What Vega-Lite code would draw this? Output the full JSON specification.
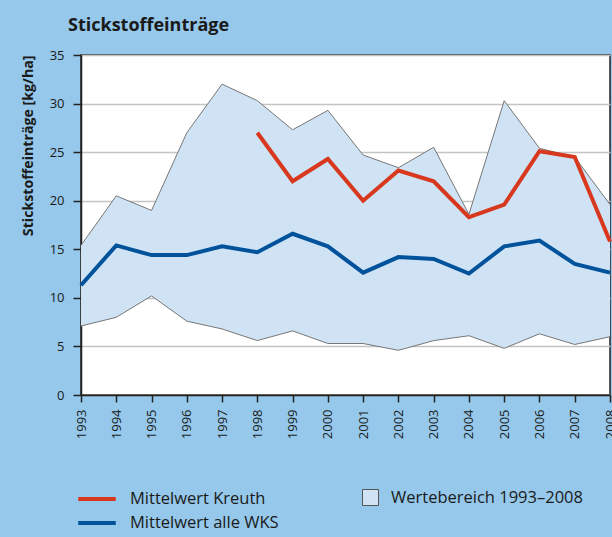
{
  "$schema": "https://vega.github.io/schema/vega-lite/v6.json",
  "width": 529,
  "height": 340,
  "autosize": "none",
  "padding": {"left": 81, "top": 55, "right": 2, "bottom": 142},
  "background": "#95c8ea",
  "title": {"text": "Stickstoffeinträge", "anchor": "start", "frame": "group", "dx": -13, "fontSize": 18, "fontWeight": "bold", "font": "Open Sans", "color": "#1a1a1a", "offset": 0, "baseline": "alphabetic"},
  "config": {
    "view": {"fill": "white", "stroke": "#222", "strokeWidth": 1.5},
    "font": "Open Sans",
    "legend": {"labelFont": "Open Sans", "labelFontSize": 16.5, "labelColor": "#1a1a1a", "labelLimit": 300}
  },
  "datasets": {
    "range": [
      {"year": 1993, "min": 7.1, "max": 15.4},
      {"year": 1994, "min": 8.0, "max": 20.5},
      {"year": 1995, "min": 10.2, "max": 19.0},
      {"year": 1996, "min": 7.6, "max": 27.0},
      {"year": 1997, "min": 6.8, "max": 32.0},
      {"year": 1998, "min": 5.6, "max": 30.3},
      {"year": 1999, "min": 6.6, "max": 27.3},
      {"year": 2000, "min": 5.3, "max": 29.3},
      {"year": 2001, "min": 5.3, "max": 24.7},
      {"year": 2002, "min": 4.6, "max": 23.4},
      {"year": 2003, "min": 5.6, "max": 25.5},
      {"year": 2004, "min": 6.1, "max": 18.6},
      {"year": 2005, "min": 4.8, "max": 30.3},
      {"year": 2006, "min": 6.3, "max": 25.4},
      {"year": 2007, "min": 5.2, "max": 24.5},
      {"year": 2008, "min": 6.0, "max": 19.6}
    ],
    "means": [
      {"year": 1993, "series": "Mittelwert alle WKS", "value": 11.3},
      {"year": 1994, "series": "Mittelwert alle WKS", "value": 15.4},
      {"year": 1995, "series": "Mittelwert alle WKS", "value": 14.4},
      {"year": 1996, "series": "Mittelwert alle WKS", "value": 14.4},
      {"year": 1997, "series": "Mittelwert alle WKS", "value": 15.3},
      {"year": 1998, "series": "Mittelwert alle WKS", "value": 14.7},
      {"year": 1999, "series": "Mittelwert alle WKS", "value": 16.6},
      {"year": 2000, "series": "Mittelwert alle WKS", "value": 15.3},
      {"year": 2001, "series": "Mittelwert alle WKS", "value": 12.6},
      {"year": 2002, "series": "Mittelwert alle WKS", "value": 14.2},
      {"year": 2003, "series": "Mittelwert alle WKS", "value": 14.0},
      {"year": 2004, "series": "Mittelwert alle WKS", "value": 12.5},
      {"year": 2005, "series": "Mittelwert alle WKS", "value": 15.3},
      {"year": 2006, "series": "Mittelwert alle WKS", "value": 15.9},
      {"year": 2007, "series": "Mittelwert alle WKS", "value": 13.5},
      {"year": 2008, "series": "Mittelwert alle WKS", "value": 12.6},
      {"year": 1998, "series": "Mittelwert Kreuth", "value": 27.0},
      {"year": 1999, "series": "Mittelwert Kreuth", "value": 22.0},
      {"year": 2000, "series": "Mittelwert Kreuth", "value": 24.3},
      {"year": 2001, "series": "Mittelwert Kreuth", "value": 20.0},
      {"year": 2002, "series": "Mittelwert Kreuth", "value": 23.1},
      {"year": 2003, "series": "Mittelwert Kreuth", "value": 22.0},
      {"year": 2004, "series": "Mittelwert Kreuth", "value": 18.3},
      {"year": 2005, "series": "Mittelwert Kreuth", "value": 19.6},
      {"year": 2006, "series": "Mittelwert Kreuth", "value": 25.1},
      {"year": 2007, "series": "Mittelwert Kreuth", "value": 24.5},
      {"year": 2008, "series": "Mittelwert Kreuth", "value": 15.8}
    ]
  },
  "encoding": {
    "x": {"field": "year", "type": "quantitative", "scale": {"domain": [1993, 2008], "nice": false, "zero": false},
      "axis": {"title": null, "values": [1993,1994,1995,1996,1997,1998,1999,2000,2001,2002,2003,2004,2005,2006,2007,2008], "format": "d", "labelAngle": -90, "labelFontSize": 13, "labelColor": "#1a1a1a", "tickSize": 7, "tickColor": "#222", "tickWidth": 1.5, "domainColor": "#222", "domainWidth": 1.5, "labelPadding": 7, "grid": false, "labelFlush": false, "labelOverlap": false, "labelBound": false}}
  },
  "layer": [
    {
      "data": {"name": "range"},
      "mark": {"type": "area", "fill": "#cfe3f4"},
      "encoding": {
        "y": {"field": "max", "type": "quantitative", "scale": {"domain": [0, 35], "nice": false},
          "axis": {"title": "Stickstoffeinträge [kg/ha]", "values": [0,5,10,15,20,25,30,35], "labelFontSize": 13, "labelColor": "#1a1a1a", "tickSize": 8, "tickColor": "#222", "tickWidth": 1.5, "domainColor": "#222", "domainWidth": 1.5, "labelPadding": 9, "grid": true, "gridColor": "#c4c4c4", "gridWidth": 1.5, "titleFontSize": 14.2, "titleFontWeight": "bold", "titleColor": "#1a1a1a", "titleAngle": -90, "titleAlign": "right", "titleBaseline": "alphabetic", "titleX": -49, "titleY": 0, "labelFlush": false}},
        "y2": {"field": "min"},
        "fill": {"datum": "Wertebereich 1993–2008", "scale": {"range": ["#cfe3f4"]},
          "legend": {"orient": "none", "legendX": 281, "legendY": 434, "title": null, "symbolType": "square", "symbolSize": 256, "symbolStrokeColor": "#555", "symbolStrokeWidth": 1, "labelOffset": 12}}
      }
    },
    {
      "data": {"name": "range"},
      "mark": {"type": "line", "color": "#777", "strokeWidth": 1},
      "encoding": {
        "y": {"field": "max", "type": "quantitative"}
      }
    },
    {
      "data": {"name": "range"},
      "mark": {"type": "line", "color": "#777", "strokeWidth": 1},
      "encoding": {
        "y": {"field": "min", "type": "quantitative"}
      }
    },
    {
      "data": {"name": "means"},
      "mark": {"type": "line", "strokeWidth": 4, "strokeJoin": "miter"},
      "encoding": {
        "y": {"field": "value", "type": "quantitative"},
        "color": {"field": "series", "type": "nominal", "scale": {"domain": ["Mittelwert Kreuth", "Mittelwert alle WKS"], "range": ["#d7381e", "#00529b"]},
          "legend": {"orient": "none", "legendX": 1.5, "legendY": 429.5, "title": null, "symbolType": "M-1.5,0H1.5", "symbolSize": 625, "symbolStrokeWidth": 4, "symbolFillColor": "transparent", "labelOffset": 18.5, "rowPadding": 1}}
      }
    }
  ]
}
